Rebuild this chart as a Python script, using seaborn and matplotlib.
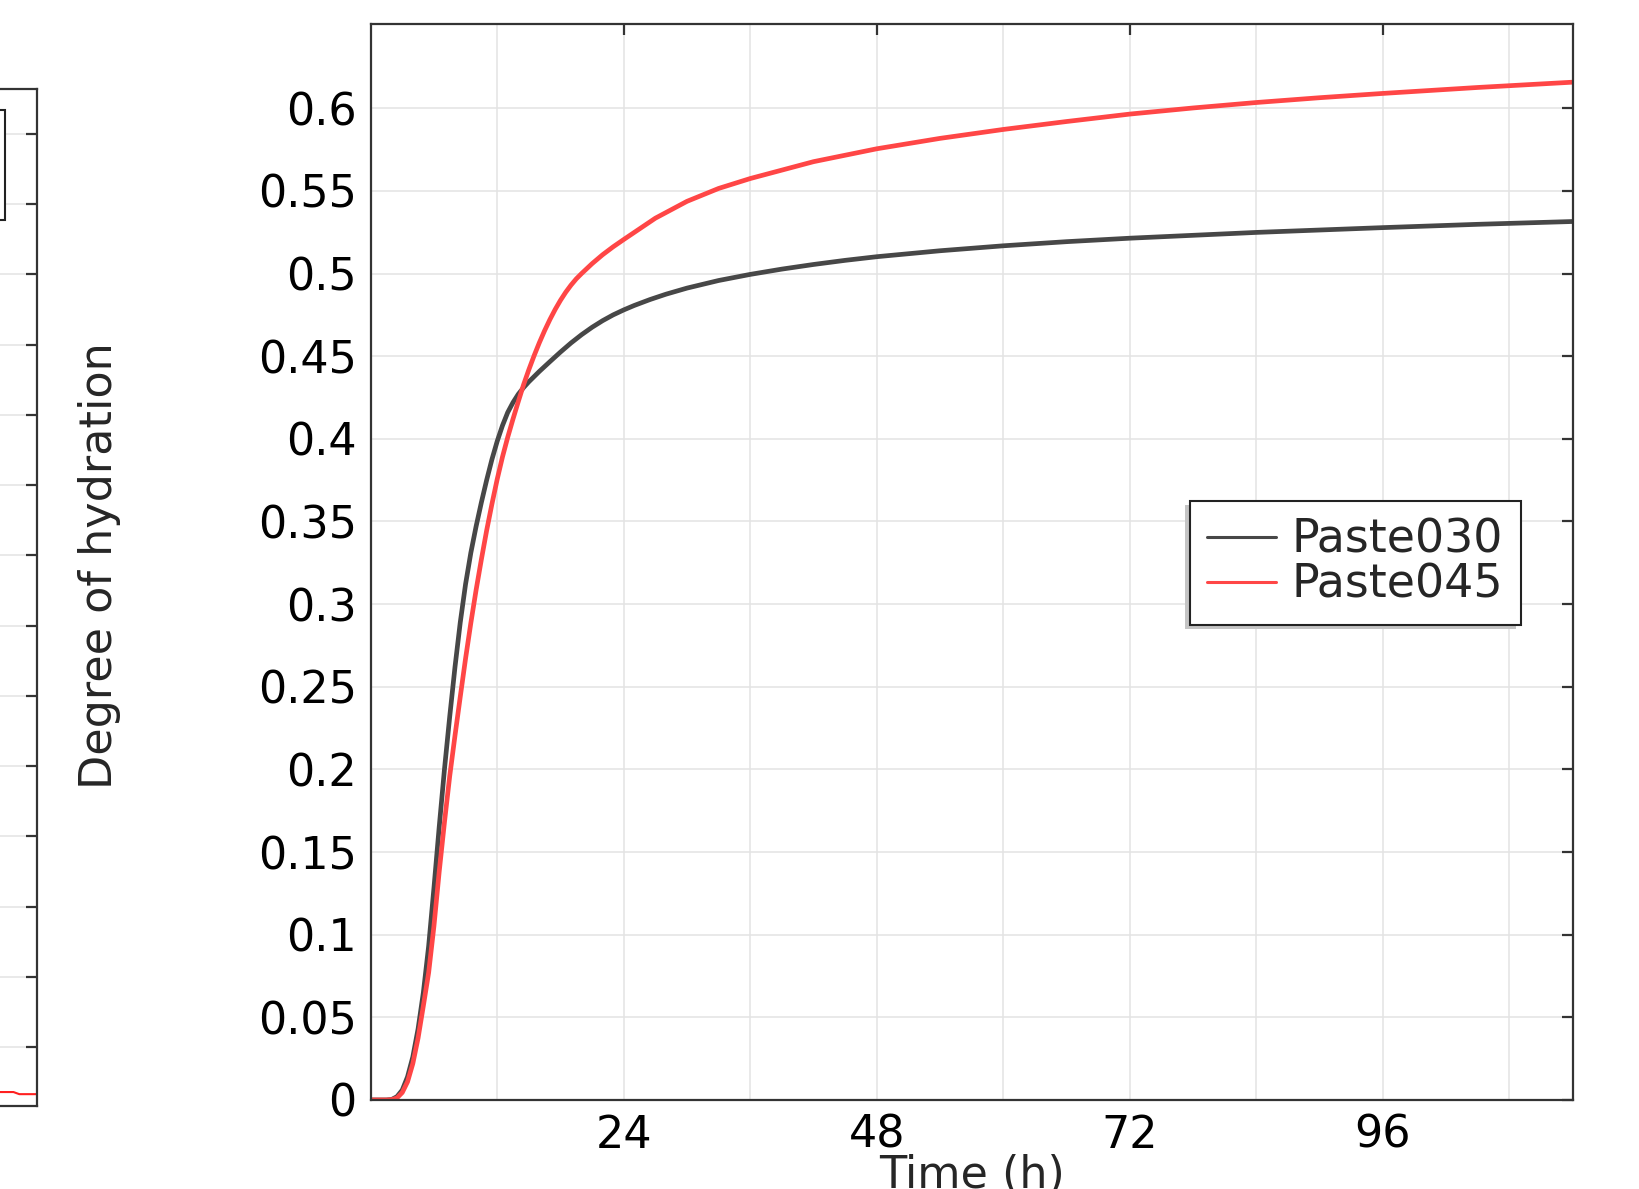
import matplotlib
matplotlib.use("Agg")
import matplotlib.pyplot as plt
import pandas as pd
import seaborn as sns
from matplotlib.lines import Line2D
from matplotlib.patches import Rectangle
from matplotlib.ticker import MultipleLocator
from matplotlib.transforms import IdentityTransform

# ---- hydration curves ------------------------------------------------------
hours_030 = [0, 1.5, 2.0, 2.5, 3.0, 3.5, 4.0, 4.5, 5.0, 5.5, 6.0, 6.5, 7.0,
             7.5, 8.0, 8.5, 9.0, 9.5, 10.0, 10.5, 11.0, 11.5, 12.0, 12.5, 13.0,
             13.5, 14.0, 14.5, 15.0, 16.0, 17.0, 18.0, 19.0, 20.0, 21.0, 22.0,
             23.0, 24.0, 25.0, 26.5, 28.0, 30.0, 33.0, 36.0, 39.0, 42.0, 45.0,
             48.0, 54.0, 60.0, 66.0, 72.0, 84.0, 96.0, 105.0, 114.0]
alpha_030 = [0, 0, 0.0003, 0.002, 0.006, 0.014, 0.026, 0.043, 0.065, 0.093,
             0.128, 0.165, 0.2, 0.232, 0.262, 0.289, 0.312, 0.331, 0.347,
             0.3615, 0.375, 0.3875, 0.3985, 0.408, 0.416, 0.422, 0.427,
             0.431, 0.4345, 0.4408, 0.4467, 0.4525, 0.458, 0.463, 0.4675,
             0.4715, 0.475, 0.478, 0.4807, 0.4843, 0.4875, 0.4912, 0.4958,
             0.4995, 0.5027, 0.5055, 0.508, 0.5102, 0.5138, 0.5168, 0.5193,
             0.5214, 0.5249, 0.5278, 0.5298, 0.5315]

hours_045 = [0, 1.5, 2.0, 2.5, 3.0, 3.5, 4.0, 4.5, 5.0, 5.5, 6.0, 6.5, 7.0,
             7.5, 8.0, 8.5, 9.0, 9.5, 10.0, 10.5, 11.0, 11.5, 12.0, 12.5, 13.0,
             13.5, 14.0, 14.5, 15.0, 15.5, 16.0, 16.5, 17.0, 17.5, 18.0, 18.5,
             19.0, 19.5, 20.0, 21.0, 22.0, 23.0, 24.0, 27.0, 30.0, 33.0, 36.0,
             42.0, 48.0, 54.0, 60.0, 66.0, 72.0, 78.0, 84.0, 90.0, 96.0, 105.0,
             114.0]
alpha_045 = [0, 0, 0.0002, 0.0012, 0.0045, 0.011, 0.022, 0.0375, 0.057, 0.077,
             0.105, 0.138, 0.168, 0.196, 0.2205, 0.244, 0.267, 0.2885, 0.3085,
             0.327, 0.3445, 0.3605, 0.3755, 0.389, 0.401, 0.412, 0.4225, 0.4327,
             0.4418, 0.4503, 0.4582, 0.4655, 0.4722, 0.4783, 0.4838, 0.4887,
             0.493, 0.4968, 0.5, 0.506, 0.5114, 0.5162, 0.5206, 0.5335, 0.5437,
             0.5515, 0.5575, 0.5677, 0.5755, 0.5818, 0.5872, 0.592, 0.5965,
             0.6002, 0.6035, 0.6064, 0.609, 0.6126, 0.6158]

series_names = ["Paste030", "Paste045"]
series_colors = ["#474747", "#ff4646"]

x_ticks = [24, 48, 72, 96]
y_ticks = [0, 0.05, 0.1, 0.15, 0.2, 0.25, 0.3, 0.35, 0.4, 0.45, 0.5, 0.55, 0.6]
y_tick_labels = ["0", "0.05", "0.1", "0.15", "0.2", "0.25", "0.3", "0.35",
                 "0.4", "0.45", "0.5", "0.55", "0.6"]

# neighbouring panel (only its right edge is in view)
side_hours = [113, 116, 117, 120]
side_values = [0.36, 0.36, 0.33, 0.33]
side_ticks = list(range(1, 15))

# ---- style -----------------------------------------------------------------
sns.set_style("white")
plt.rcParams["font.family"] = ["DejaVu Sans"]
FS = 32
SPINE = "#333333"
GRID = "#e3e3e3"

df = pd.concat([
    pd.DataFrame({"Time (h)": hours_030, "Degree": alpha_030, "Sample": series_names[0]}),
    pd.DataFrame({"Time (h)": hours_045, "Degree": alpha_045, "Sample": series_names[1]}),
], ignore_index=True)
palette = dict(zip(series_names, series_colors))

fig = plt.figure(figsize=(16.4, 11.89), dpi=100)
fig.patch.set_facecolor("white")

# ---- neighbouring panel ------------------------------------------------------
axl = fig.add_axes([-0.4, 0.0702, 0.4223, 0.8549])
axl.set_xlim(0, 120)
axl.set_ylim(0.168, 14.639)
axl.set_yticks(side_ticks)
axl.yaxis.grid(True, color=GRID, linewidth=1.1)
axl.tick_params(axis="y", left=False, right=True, labelleft=False,
                labelright=False, direction="in", length=8, width=1.6,
                color=SPINE)
axl.tick_params(axis="x", bottom=False, labelbottom=False)
for s in axl.spines.values():
    s.set_color(SPINE)
    s.set_linewidth(1.6)
axl.plot(side_hours, side_values, color="#ff2020", linewidth=1.5)
# edge of that panel's legend box
axl.add_patch(Rectangle((0.62, 0.8711), 0.3347, 0.1082, transform=axl.transAxes,
                        facecolor="white", edgecolor="#222222", linewidth=1.5,
                        zorder=5))

# ---- main panel --------------------------------------------------------------
ax = fig.add_axes([0.2260, 0.0749, 0.7330, 0.9045])
sns.lineplot(data=df, x="Time (h)", y="Degree", hue="Sample",
             hue_order=series_names, palette=palette, linewidth=3.4,
             estimator=None, errorbar=None, sort=False, legend=False, ax=ax)

ax.set_xlim(0, 114)
ax.set_ylim(0, 0.6507)
ax.set_xticks(x_ticks)
ax.set_xticklabels([str(v) for v in x_ticks])
ax.xaxis.set_minor_locator(MultipleLocator(12))
ax.set_yticks(y_ticks)
ax.set_yticklabels(y_tick_labels)

ax.grid(True, which="major", axis="both", color=GRID, linewidth=1.1)
ax.grid(True, which="minor", axis="x", color=GRID, linewidth=1.1)
ax.set_axisbelow(True)

ax.tick_params(axis="both", which="major", direction="in", length=8,
               width=1.6, color=SPINE, labelsize=FS, pad=10,
               top=True, right=True, labelcolor="black")
ax.tick_params(axis="x", which="minor", length=0, top=False, bottom=False)
for s in ax.spines.values():
    s.set_color(SPINE)
    s.set_linewidth(1.6)

ax.set_xlabel("Time (h)", fontsize=FS, va="top")
ax.xaxis.set_label_coords(0.5, -0.0502)
ax.set_ylabel("Degree of hydration", fontsize=FS, va="center")
ax.yaxis.set_label_coords(-0.2255, 0.497)

handles = [Line2D([], [], color=c, linewidth=2.2) for c in series_colors]
leg = ax.legend(handles, series_names, loc="center",
                bbox_to_anchor=(0.819, 0.4993), fontsize=33, frameon=True,
                fancybox=False, edgecolor="#222222", framealpha=1,
                labelspacing=0.0, handlelength=1.5, handletextpad=0.35,
                borderpad=0.38)
leg.get_frame().set_linewidth(1.5)

# soft drop shadow below/left of the legend box
fig.canvas.draw()
bb = leg.get_window_extent()
shadow = Rectangle((bb.x0 - 5, bb.y0 - 4), bb.width, bb.height,
                   transform=IdentityTransform(), facecolor="#c4c4c4",
                   edgecolor="none", zorder=leg.get_zorder() - 0.5)
ax.add_artist(shadow)

fig.savefig("out.png", dpi=100, facecolor="white")
